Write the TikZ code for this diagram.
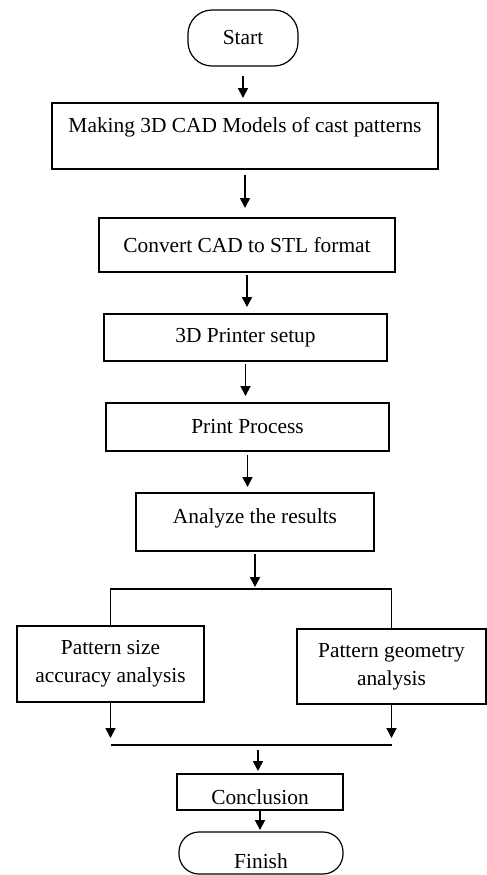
\documentclass[tikz,border=0pt]{standalone}
\usepackage{fontspec}
\setmainfont{Liberation Serif}
\usetikzlibrary{arrows.meta,positioning,shapes}

\begin{document}
\begin{tikzpicture}[x = 0.5pt, y = -0.5pt,
  box/.style = {draw, line width = 0.6pt, inner sep = 0pt, outer sep = 0pt,
    align = center, font = \fontsize{10.7}{14}\selectfont},
  term/.style = {box, rounded corners = 12pt},
  flow/.style = {-{Triangle[length = 5pt, width = 5pt]}, line width = 0.9pt},
  link/.style = {line width = 0.7pt}]
\useasboundingbox (0,0) rectangle (487,875);
\node[term, minimum width = 55pt, minimum height = 28pt] (start) at (243,38) {Start};
\node[box, minimum width = 193pt, minimum height = 33pt, text height = 7.3pt, text depth = 10.7pt] (cad) at (245,136) {Making 3D CAD Models of cast patterns};
\node[box, minimum width = 148pt, minimum height = 27pt] (stl) at (247,245) {Convert CAD to STL format};
\node[box, minimum width = 141.5pt, minimum height = 23.5pt] (setup) at (245.5,337.5) {3D Printer setup};
\node[box, minimum width = 141.5pt, minimum height = 24pt] (print) at (247.5,427) {Print Process};
\node[box, minimum width = 119pt, minimum height = 29pt, text height = 7.3pt, text depth = 5.7pt] (analyze) at (255,522) {Analyze the results};
\node[box, minimum width = 93.5pt, minimum height = 38pt] (size) at (110.5,664) {Pattern size\\accuracy analysis};
\node[box, minimum width = 94.5pt, minimum height = 37.5pt] (geom) at (391.5,666.5) {Pattern geometry\\analysis};
\node[box, minimum width = 83pt, minimum height = 18pt, text height = 12.2pt, text depth = 0pt] (concl) at (260,792) {Conclusion};
\node[term, rounded corners = 10pt, minimum width = 82pt, minimum height = 21pt, text height = 15.2pt, text depth = 0pt] (finish) at (261,853) {Finish};
\coordinate (split) at (255,589);
\coordinate (merge) at (258,745);
% main column
\draw[flow, shorten <= 5pt, shorten >= 2.5pt] (start.south) -- (start.south |- cad.north);
\draw[flow, shorten <= 3pt, shorten >= 5pt] (cad.south) -- (cad.south |- stl.north);
\draw[flow, shorten <= 1.5pt, shorten >= 3.5pt] (stl.south) -- (stl.south |- setup.north);
\draw[flow, shorten <= 1.5pt, shorten >= 3.5pt] (setup.south) -- (setup.south |- print.north);
\draw[flow, shorten <= 2pt, shorten >= 3pt] (print.south) -- (print.south |- analyze.north);
% branches
\draw[flow, shorten <= 1.5pt, shorten >= 1pt] (analyze.south) -- (analyze.south |- split);
\draw[link] (size.north) |- (split) -| (geom.north);
\draw[flow, shorten >= 3.5pt] (size.south) -- (size.south |- merge);
\draw[flow, shorten >= 3.5pt] (geom.south) -- (geom.south |- merge);
\draw[link] (size.south |- merge) -- (geom.south |- merge);
\draw[flow, shorten <= 2.5pt, shorten >= 1.5pt] (merge) -- (merge |- concl.north);
\draw[flow, shorten >= 1pt] (concl.south) -- (concl.south |- finish.north);
\end{tikzpicture}
\end{document}
